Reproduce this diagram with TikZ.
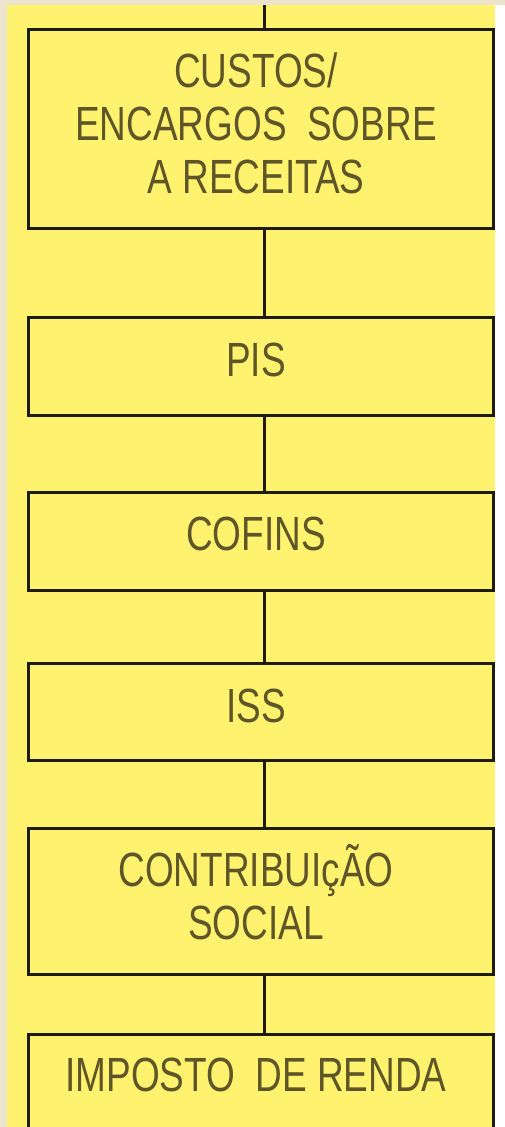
\documentclass[tikz,border=0pt]{standalone}
\usepackage{fontspec}
\newfontfamily\boxfont[FakeStretch=0.77]{Liberation Sans}
\definecolor{beige}{HTML}{EEE4CE}
\definecolor{panel}{HTML}{FFF26E}
\definecolor{ink}{HTML}{1E1C10}
\definecolor{txt}{HTML}{5E5628}
\tikzset{
  box/.style={draw=ink, line width=3pt, fill=panel, minimum width=465pt, inner sep=0pt},
  lbl/.style={inner sep=0pt, align=center, text=txt, font=\boxfont\fontsize{48}{53}\selectfont},
  link/.style={draw=ink, line width=3pt}
}
\begin{document}
\begin{tikzpicture}[x=1pt,y=-1pt]
\useasboundingbox (0,0) rectangle (505,1127);
\fill[beige] (0,0) rectangle (505,1127);
\fill[white] (495,5) rectangle (505,1127);
\fill[panel] (7,5) rectangle (495,1127);
\clip (0,0) rectangle (505,1127);
\coordinate (top) at (264,5);
\node[box, minimum height=199.5pt] (b1) at (260.5,128.75) {};
\node[box, minimum height=97.5pt] (b2) at (260.5,366.25) {};
\node[box, minimum height=98pt] (b3) at (260.5,541) {};
\node[box, minimum height=96.5pt] (b4) at (260.5,711.75) {};
\node[box, minimum height=146pt] (b5) at (260.5,901) {};
\node[box, minimum height=98pt] (b6) at (260.5,1083.5) {};
\draw[link] (top) -- (top |- b1.north);
\draw[link] (b1.south -| top) -- (b2.north -| top);
\draw[link] (b2.south -| top) -- (b3.north -| top);
\draw[link] (b3.south -| top) -- (b4.north -| top);
\draw[link] (b4.south -| top) -- (b5.north -| top);
\draw[link] (b5.south -| top) -- (b6.north -| top);
\node[lbl] (t1) at (256,123) {CUSTOS/\\ENCARGOS\ \ SOBRE\\A RECEITAS};
\node[lbl] (t2) at (256,360) {PIS};
\node[lbl] (t3) at (256,533.5) {COFINS};
\node[lbl] (t4) at (256,706) {ISS};
\node[lbl] (t5) at (256,892) {CONTRIBUIçÃO\\SOCIAL};
\node[lbl] (t6) at (256,1075) {IMPOSTO\ \ DE RENDA};
\end{tikzpicture}
\end{document}
